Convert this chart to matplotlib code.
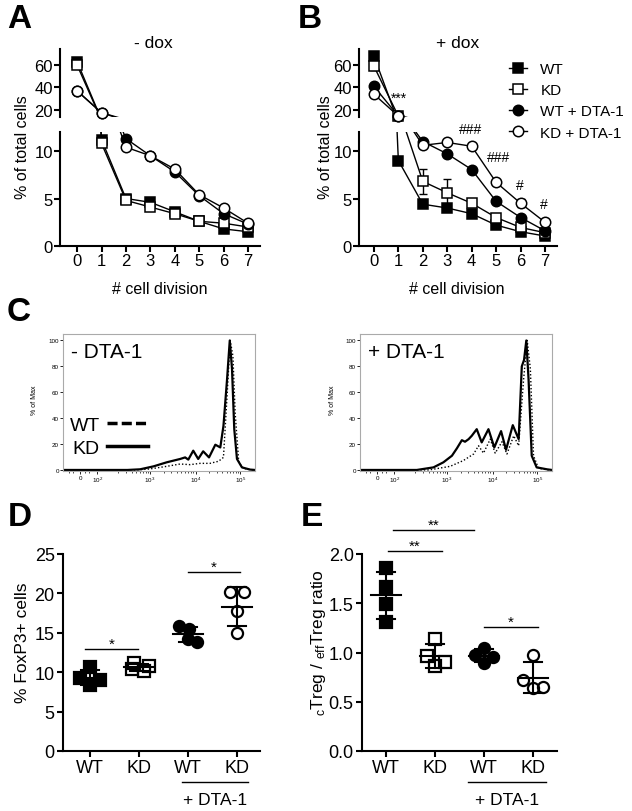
import numpy as np
import matplotlib
matplotlib.use('Agg')
import matplotlib.pyplot as plt
from matplotlib.lines import Line2D

plt.rcParams['font.family'] = ['Liberation Sans', 'DejaVu Sans']
plt.rcParams['mathtext.fontset'] = 'custom'
plt.rcParams['mathtext.rm'] = 'Liberation Sans'
plt.rcParams['mathtext.it'] = 'Liberation Sans:italic'

W, H = 632, 812

# ---- A / B : % of total cells per cell division
div = np.arange(8)
a_wt = [63, 11.2, 5.0, 4.6, 3.6, 2.6, 1.8, 1.5]
a_kd = [60, 10.8, 4.8, 4.1, 3.4, 2.6, 2.4, 2.0]
a_wt_dta = [37, 17.5, 11.3, 9.5, 7.8, 5.3, 3.4, 2.3]
a_kd_dta = [37, 17.5, 10.4, 9.5, 8.1, 5.4, 4.0, 2.4]

b_wt = [68, 9.0, 4.4, 4.0, 3.4, 2.2, 1.5, 1.05]
b_kd = [59, 14.5, 6.8, 5.6, 4.5, 3.0, 1.95, 1.4]
b_kd_err = [3, 1, 1.35, 1.45, 0.2, 0.2, 0.2, 0.1]
b_wt_dta = [41, 14.5, 11.0, 9.7, 8.05, 4.7, 3.0, 1.6]
b_kd_dta = [34, 14.5, 10.6, 10.9, 10.5, 6.7, 4.5, 2.5]
b_kd_dta_err = [2, 0.5, 0.2, 0.2, 0.3, 0.3, 0.4, 0.2]

series_names = ['WT', 'KD', 'WT + DTA-1', 'KD + DTA-1']

# ---- C : CFSE histograms (x = log10 fluorescence, y = % of max)
c1_kd_x = [1.1, 2.5, 2.78, 3.08, 3.37, 3.67, 3.78, 3.85, 3.96, 4.07, 4.18, 4.31, 4.45,
           4.56, 4.63, 4.71, 4.77, 4.82, 4.87, 4.93, 5.04, 5.22, 5.33]
c1_kd_y = [0, 0, 0.5, 2.8, 5.9, 8.5, 9.7, 8, 14.9, 8.5, 14.4, 9.7, 19.5,
           17.4, 34, 70, 100, 78, 31.5, 8.5, 2, 0.3, 0]
c1_wt_x = [1.1, 2.7, 3.0, 3.37, 3.67, 3.89, 4.11, 4.33, 4.52, 4.63, 4.71, 4.78, 4.84,
           4.89, 4.97, 5.07, 5.25, 5.33]
c1_wt_y = [0, 0, 0.8, 2.8, 4.6, 4.1, 5.1, 5.1, 6.7, 9.7, 57, 100, 88, 44, 5.9, 1.3, 0, 0]

c2_kd_x = [1.1, 2.33, 2.70, 2.92, 3.11, 3.22, 3.33, 3.40, 3.48, 3.55, 3.66, 3.77, 3.92,
           4.05, 4.20, 4.31, 4.46, 4.59, 4.66, 4.71, 4.76, 4.81, 4.88, 4.99, 5.22, 5.33]
c2_kd_y = [0, 0, 2, 5.9, 11, 16.7, 23, 21.8, 23.8, 26.4, 31.5, 21.3, 31.5,
           17.4, 30, 15.6, 34.6, 23.8, 80, 85, 100, 70, 11, 2, 0.5, 0]
c2_wt_x = [1.1, 2.6, 3.07, 3.36, 3.59, 3.70, 3.81, 3.96, 4.07, 4.22, 4.33, 4.48, 4.59,
           4.70, 4.78, 4.85, 4.92, 5.03, 5.25, 5.33]
c2_wt_y = [0, 0, 2.8, 7.2, 12.3, 18.7, 13, 23.8, 13, 21.8, 12.3, 26.4, 18.7,
           70, 100, 78, 11, 1.3, 0, 0]

c_tick_pos = [1.45, 1.83, 3, 4.02, 5]
c_tick_lab = ['0', r'$10^2$', r'$10^3$', r'$10^4$', r'$10^5$']

# ---- D / E : scatter dot plots, 4 mice per group
grp_labels = ['WT', 'KD', 'WT', 'KD']
d_vals = [[10.6, 9.3, 9.0, 8.4], [11.2, 10.8, 10.4, 10.1],
          [15.8, 15.5, 14.2, 13.8], [20.2, 20.2, 17.8, 15.0]]
e_vals = [[1.86, 1.66, 1.49, 1.31], [1.14, 0.96, 0.90, 0.86],
          [1.05, 0.97, 0.95, 0.89], [0.97, 0.72, 0.65, 0.64]]

# horizontal spread of the dots (style only)
d_jit = [[0, -0.2, 0.2, 0], [-0.1, 0.2, -0.15, 0.1], [-0.18, 0.02, 0, 0.19], [-0.14, 0.14, 0, 0]]
e_jit = [[0, 0, 0, 0], [0, -0.17, 0.2, 0], [0, -0.18, 0.18, 0], [0, -0.2, 0.2, 0]]

fig = plt.figure(figsize=(W / 100, H / 100), dpi=100)


def px_axes(x0, y0, x1, y1):
    return fig.add_axes([x0 / W, 1 - y1 / H, (x1 - x0) / W, (y1 - y0) / H])


def ftext(x, y, s, **kw):
    kw.setdefault('ha', 'center')
    kw.setdefault('va', 'center')
    return fig.text(x / W, 1 - y / H, s, **kw)


styles = [('s', 'k'), ('s', 'w'), ('o', 'k'), ('o', 'w')]


def broken_panel(x0, x1, xlim, data, errs):
    top = px_axes(x0, 50, x1, 118)
    bot = px_axes(x0, 133, x1, 247)
    for ax, lim in ((top, (13.7, 74.3)), (bot, (0, 12))):
        ax.set_ylim(lim)
        ax.set_xlim(xlim)
        for y, err, (m, fc) in zip(data, errs, styles):
            y = np.asarray(y, float)
            ax.plot(div, y, color='k', lw=1.0, zorder=2)
            ins = (y >= lim[0]) & (y <= lim[1])
            if err is not None:
                ax.errorbar(div[ins], y[ins], yerr=np.asarray(err)[ins], fmt='none',
                            ecolor='k', elinewidth=1, capsize=3, capthick=1, zorder=2)
            ax.plot(div[ins], y[ins], ls='none', marker=m, mfc=fc, mec='k', ms=7.5,
                    mew=1.1, clip_on=False, zorder=3)
        for s in ('top', 'right'):
            ax.spines[s].set_visible(False)
        ax.spines['left'].set_linewidth(1.5)
        ax.tick_params(width=1.5, length=4, labelsize=12, pad=1)
    top.spines['bottom'].set_visible(False)
    top.set_xticks([])
    top.set_yticks([20, 40, 60])
    bot.spines['bottom'].set_linewidth(1.5)
    bot.set_yticks([0, 5, 10])
    bot.set_xticks(div)
    return top, bot


# A
broken_panel(60, 260, (-0.70, 7.49), [a_wt, a_kd, a_wt_dta, a_kd_dta], [None] * 4)
ftext(153, 43, '- dox', fontsize=12.5)
ftext(23, 147, '% of total cells', fontsize=11.5, rotation=90)
ftext(160, 290, '# cell division', fontsize=11.5)

# B
btop, bbot = broken_panel(359, 557, (-0.61, 7.49), [b_wt, b_kd, b_wt_dta, b_kd_dta],
                          [None, b_kd_err, None, b_kd_dta_err])
ftext(458, 43, '+ dox', fontsize=12.5)
ftext(325, 147, '% of total cells', fontsize=11.5, rotation=90)
ftext(457, 290, '# cell division', fontsize=11.5)
btop.text(1.03, 31, '***', ha='center', va='center', fontsize=10, clip_on=False)
for xx, yy, s in [(3.97, 12.3, '###'), (5.08, 9.4, '###'), (5.98, 6.4, '#'), (6.97, 4.45, '#')]:
    bbot.text(xx, yy, s, ha='center', va='center', fontsize=10, clip_on=False)

handles = [Line2D([], [], color='k', lw=1, marker=m, mfc=fc, mec='k', ms=7.5, mew=1.1)
           for m, fc in styles]
fig.legend(handles, series_names, loc='upper left', bbox_to_anchor=(509 / W, 1 - 63 / H),
           frameon=False, fontsize=11, handlelength=1.2, handletextpad=0.85,
           labelspacing=0.47, borderpad=0, borderaxespad=0)


# C
def histo(x0, x1, kd_x, kd_y, wt_x, wt_y, title, ylab_x):
    ax = px_axes(x0, 335, x1, 472)
    ax.plot(kd_x, kd_y, color='k', lw=1.6)
    ax.plot(wt_x, wt_y, color='k', lw=1.0, ls=(0, (1, 1.5)))
    ax.set_xlim(1.07, 5.33)
    ax.set_ylim(-0.8, 105)
    for s in ax.spines.values():
        s.set_color('#aaaaaa')
        s.set_linewidth(0.8)
    ax.set_yticks([0, 20, 40, 60, 80, 100])
    ax.set_xticks(c_tick_pos)
    ax.set_xticklabels(c_tick_lab)
    minor = [np.log10(k * 10.0 ** d) for d in (2, 3, 4) for k in range(2, 10)]
    minor += [1.2, 1.3, 1.55, 1.65]
    ax.set_xticks(minor, minor=True)
    ax.tick_params(labelsize=4.5, length=2, width=0.6, pad=1)
    ax.tick_params(which='minor', length=1.2, width=0.5)
    ax.text(0.04, 0.87, title, transform=ax.transAxes, fontsize=15, va='center')
    ftext(ylab_x, 400, '% of Max', fontsize=5, rotation=90)
    return ax


cax1 = histo(63, 255, c1_kd_x, c1_kd_y, c1_wt_x, c1_wt_y, '- DTA-1', 35)
histo(360, 552, c2_kd_x, c2_kd_y, c2_wt_x, c2_wt_y, '+ DTA-1', 332)
cax1.legend([Line2D([], [], color='k', lw=2.5, ls=(0, (2.9, 1.2))),
             Line2D([], [], color='k', lw=2.5)], ['WT', 'KD'], markerfirst=False,
            loc='upper left', bbox_to_anchor=(0.035, 0.40), fontsize=14, handlelength=2.1,
            handletextpad=0.35, labelspacing=0.3, frameon=False, borderpad=0,
            borderaxespad=0)


# D / E
def dotplot(x0, x1, xlim, vals, jit, ylim, yticks, ylab, ylab_x, fmt):
    ax = px_axes(x0, 555, x1, 752)
    for i, (v, j) in enumerate(zip(vals, jit)):
        v = np.asarray(v)
        m, fc = styles[i]
        mean, sd = v.mean(), v.std(ddof=1)
        ax.plot([i - 0.3, i + 0.3], [mean, mean], color='k', lw=1.5, zorder=3)
        ax.plot([i, i], [mean - sd, mean + sd], color='k', lw=1.5, zorder=3)
        for yy in (mean - sd, mean + sd):
            ax.plot([i - 0.18, i + 0.18], [yy, yy], color='k', lw=1.5, zorder=3)
        ax.plot(i + np.asarray(j), v, ls='none', marker=m, ms=8,
                mfc='k' if fc == 'k' else 'none', mec='k', mew=1.6, zorder=4, clip_on=False)
    ax.set_xlim(xlim)
    ax.set_ylim(ylim)
    ax.set_yticks(yticks)
    ax.set_yticklabels([fmt.format(t) for t in yticks])
    ax.set_xticks(range(4))
    ax.set_xticklabels(grp_labels)
    for s in ('top', 'right'):
        ax.spines[s].set_visible(False)
    for s in ('left', 'bottom'):
        ax.spines[s].set_linewidth(1.5)
    ax.tick_params(width=1.5, length=4, labelsize=13, pad=2)
    ftext(ylab_x, 643, ylab, fontsize=12.5, rotation=90)
    return ax


def sigbar(ax, xa, xb, y, s):
    ax.plot([xa, xb], [y, y], color='k', lw=1.0, clip_on=False)
    ax.annotate(s, xy=((xa + xb) / 2, y), xytext=(0, 1), textcoords='offset points',
                ha='center', va='baseline', fontsize=11, annotation_clip=False)


def dta_bar(ax, xa, xb):
    tr = ax.get_xaxis_transform()
    ax.plot([xa, xb], [-0.157, -0.157], color='k', lw=1.0, transform=tr, clip_on=False)
    ax.text((xa + xb) / 2, -0.245, '+ DTA-1', transform=tr, ha='center', va='center',
            fontsize=12.5)


axd = dotplot(63, 260, (-0.55, 3.47), d_vals, d_jit, (0, 25), [0, 5, 10, 15, 20, 25],
              '% FoxP3+ cells', 23, '{:g}')
sigbar(axd, -0.1, 0.98, 12.9, '*')
sigbar(axd, 2.0, 3.06, 22.7, '*')
dta_bar(axd, 1.88, 3.22)

axe = dotplot(362, 557, (-0.49, 3.49), e_vals, e_jit, (0, 2.0), [0, 0.5, 1.0, 1.5, 2.0],
              r'${}_{\mathrm{c}}$Treg / ${}_{\mathrm{eff}}$Treg ratio', 318, '{:.1f}')
sigbar(axe, 0.14, 1.8, 2.24, '**')
sigbar(axe, 0.04, 1.14, 2.03, '**')
sigbar(axe, 2.0, 3.1, 1.26, '*')
dta_bar(axe, 1.67, 3.27)

# panel letters
for (x, y), s in zip([(19, 20), (310, 20), (19, 313), (20, 518), (312, 518)], 'ABCDE'):
    ftext(x, y, s, fontsize=24, fontweight='bold')

fig.savefig('out.png', dpi=100)
